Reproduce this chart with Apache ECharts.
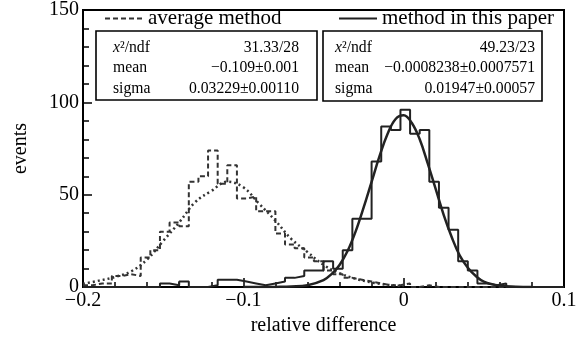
<!DOCTYPE html>
<html>
<head>
<meta charset="utf-8">
<script src="https://cdn.jsdelivr.net/npm/echarts@6/dist/echarts.min.js"></script>
<style>
  html, body { margin: 0; padding: 0; background: #fff; }
  #chart { width: 586px; height: 341px; }
</style>
</head>
<body>
<div id="chart"></div>
<script>
// histogram binning: 50 bins of 0.006 from -0.2 to 0.1
const BIN_LOW = -0.2;
const BIN_WIDTH = 0.006;

// counts per bin
const avgCounts = [
  1, 2, 2, 6, 7, 6, 16, 20, 30, 35,
  33, 57, 60, 74, 56, 66, 48, 49, 41, 41,
  29, 23, 21, 16, 14, 9, 7, 5, 4, 3,
  2, 1, 1, 2, 0, 1, 0, 0, 0, 0,
  0, 0, 0, 0, 0, 0, 0, 0, 0, 0
];
const paperCounts = [
  0, 0, 0, 0, 0, 0, 0, 0, 2, 1,
  3, 0, 0, 1, 4, 4, 3, 2, 1, 2,
  3, 5, 6, 9, 9, 14, 10, 20, 37, 37,
  68, 87, 85, 96, 83, 85, 57, 43, 31, 14,
  9, 2, 1, 2, 0, 0, 0, 0, 0, 0
];

// fitted curves
const avgFitX = [-0.2, -0.19, -0.18, -0.17, -0.16, -0.15, -0.14, -0.13, -0.12, -0.11, -0.1,
  -0.09, -0.08, -0.07, -0.06, -0.05, -0.04, -0.03, -0.02, -0.01, 0];
const avgFitY = [1.8, 3.5, 5.5, 8.5, 15, 25, 35, 46, 52, 57, 54,
  45, 36, 26, 19, 12, 7.5, 4.5, 2.5, 1.2, 0.6];
const paperFitX = [-0.1, -0.09, -0.08, -0.07, -0.06, -0.05, -0.045, -0.04, -0.035, -0.03, -0.025,
  -0.02, -0.015, -0.01, -0.005, 0, 0.005, 0.01, 0.015, 0.02, 0.025, 0.03, 0.035, 0.04, 0.045,
  0.05, 0.06, 0.07, 0.08];
const paperFitY = [0, 0, 0.1, 0.3, 1, 3.8, 7, 12, 19.5, 30, 43,
  57, 71, 83, 91, 93, 89, 80, 67, 53, 39, 27, 17, 10.5, 6,
  3, 0.8, 0.2, 0];

const xTickLabels = ['\u22120.2', '\u22120.1', '0', '0.1'];
const yTickLabels = ['0', '50', '100', '150'];

const avgStats = [['{i|x}\u00b2/ndf', '31.33/28'], ['mean', '\u22120.109\u00b10.001'], ['sigma', '0.03229\u00b10.00110']];
const paperStats = [['{i|x}\u00b2/ndf', '49.23/23'], ['mean', '\u22120.0008238\u00b10.0007571'], ['sigma', '0.01947\u00b10.00057']];

const FONT = '"Liberation Serif", "DejaVu Serif", serif';
const STAT_SIZE = 15.7;

// step line points at the left edge of each bin, plus closing right edge
const histPoints = counts => {
  const pts = counts.map((c, i) => [+(BIN_LOW + i * BIN_WIDTH).toFixed(3), c]);
  pts.push([+(BIN_LOW + counts.length * BIN_WIDTH).toFixed(3), counts[counts.length - 1]]);
  return pts;
};
const zip = (xs, ys) => xs.map((x, i) => [x, ys[i]]);

// stats box: frame + label column + right aligned values
const statsBox = (x, y, w, h, labelX, valueX, rows) => {
  const els = [{
    type: 'rect',
    shape: { x: x, y: y, width: w, height: h },
    style: { fill: '#fff', stroke: '#000', lineWidth: 1.6 }
  }];
  rows.forEach((r, i) => {
    const cy = y + 16.5 + i * 20.7;
    els.push({
      type: 'text', x: labelX, y: cy,
      style: {
        text: r[0], font: STAT_SIZE + 'px ' + FONT, fill: '#000', verticalAlign: 'middle',
        rich: { i: { fontStyle: 'italic', fontSize: STAT_SIZE, fontFamily: FONT } }
      }
    });
    els.push({
      type: 'text', x: valueX, y: cy,
      style: { text: r[1], font: STAT_SIZE + 'px ' + FONT, fill: '#000', align: 'right', verticalAlign: 'middle' }
    });
  });
  return els;
};

const chart = echarts.init(document.getElementById('chart'));

const legendBase = {
  top: 8,
  padding: 0,
  itemWidth: 38,
  itemHeight: 14,
  selectedMode: false,
  itemStyle: { opacity: 0 },
  textStyle: { fontFamily: FONT, fontSize: 21, color: '#000' }
};

chart.setOption({
  animation: false,
  backgroundColor: '#fff',
  grid: {
    left: 83, right: 22, top: 7, bottom: 52,
    show: true, borderColor: '#000', borderWidth: 2
  },
  legend: [
    Object.assign({ left: 104, data: ['average method'] }, legendBase),
    Object.assign({ left: 338, data: ['method in this paper'] }, legendBase)
  ],
  xAxis: {
    type: 'value',
    min: -0.2, max: 0.1, interval: 0.1,
    name: 'relative difference',
    nameLocation: 'middle',
    nameGap: 27,
    nameTextStyle: { fontFamily: FONT, fontSize: 20, color: '#000' },
    axisLine: { onZero: false, lineStyle: { color: '#000', width: 2 } },
    axisTick: { inside: true, length: 9, lineStyle: { color: '#000', width: 1.5 } },
    minorTick: { show: true, splitNumber: 5, length: 5, lineStyle: { color: '#000', width: 1.5 } },
    splitLine: { show: false },
    axisLabel: {
      fontFamily: FONT, fontSize: 20, color: '#000', margin: 4,
      formatter: (v, i) => xTickLabels[i]
    }
  },
  yAxis: {
    type: 'value',
    min: 0, max: 150, interval: 50,
    name: 'events',
    nameLocation: 'middle',
    nameGap: 52,
    nameTextStyle: { fontFamily: FONT, fontSize: 20, color: '#000' },
    axisLine: { show: true, onZero: false, lineStyle: { color: '#000', width: 2 } },
    axisTick: { show: true, inside: true, length: 9, lineStyle: { color: '#000', width: 1.5 } },
    minorTick: { show: true, splitNumber: 5, length: 6, lineStyle: { color: '#000', width: 1.5 } },
    splitLine: { show: false },
    axisLabel: {
      fontFamily: FONT, fontSize: 20, color: '#000', margin: 4,
      formatter: (v, i) => yTickLabels[i]
    }
  },
  series: [
    {
      name: 'average method',
      type: 'line', step: 'end', symbol: 'none', silent: true,
      data: histPoints(avgCounts),
      lineStyle: { color: '#333', width: 2, type: [5, 3] }
    },
    {
      name: 'method in this paper',
      type: 'line', step: 'end', symbol: 'none', silent: true,
      data: histPoints(paperCounts),
      lineStyle: { color: '#222', width: 2 }
    },
    {
      name: 'average fit',
      type: 'line', smooth: 0.4, symbol: 'none', silent: true,
      data: zip(avgFitX, avgFitY),
      lineStyle: { color: '#333', width: 2.5, type: [2, 3] }
    },
    {
      name: 'paper fit',
      type: 'line', smooth: 0.4, symbol: 'none', silent: true,
      data: zip(paperFitX, paperFitY),
      lineStyle: { color: '#222', width: 2.5 }
    }
  ],
  graphic: [].concat(
    statsBox(96, 31, 221, 69, 113, 299, avgStats),
    statsBox(323, 31, 219, 70, 335, 535, paperStats)
  )
});

window.addEventListener('resize', () => chart.resize());
</script>
</body>
</html>
